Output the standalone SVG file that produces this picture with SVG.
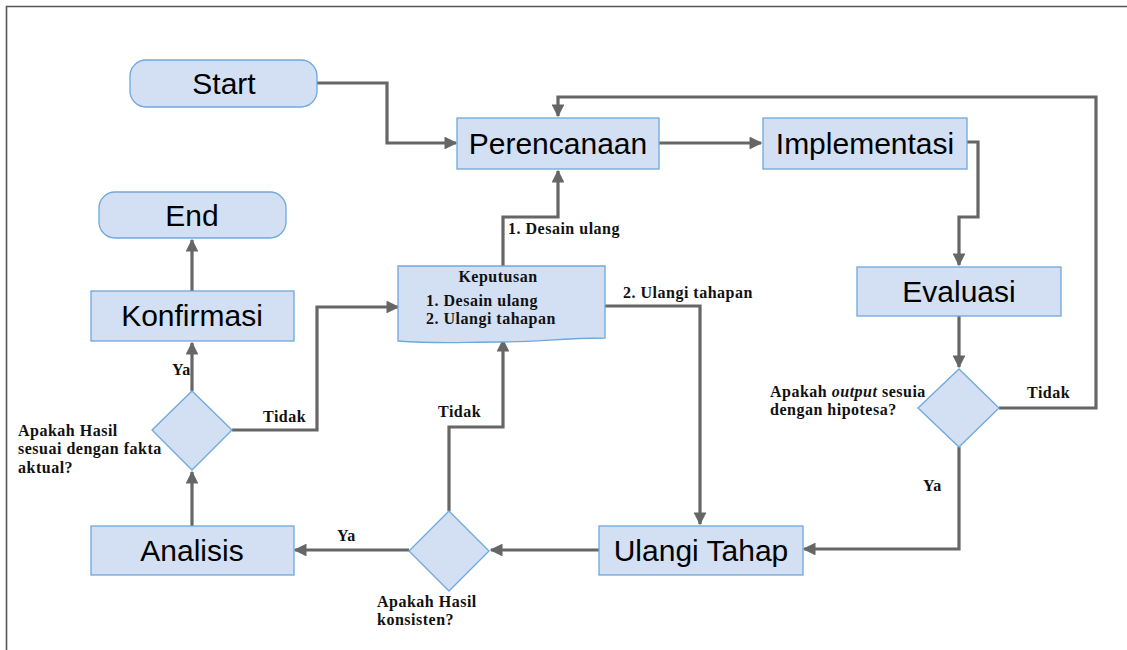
<svg xmlns="http://www.w3.org/2000/svg" width="1127" height="650" viewBox="0 0 1127 650">
<defs>
<marker id="ah" viewBox="0 0 10 10" refX="9" refY="5" markerWidth="4" markerHeight="4" orient="auto" markerUnits="strokeWidth">
<path d="M0,0 L10,5 L0,10 Z" fill="#666"/>
</marker>
<style>
.box{fill:#d3e0f4;stroke:#6fa8dc;stroke-width:1.3}
.big{font-family:"Liberation Sans",Arial,sans-serif;font-size:30px;fill:#000;text-anchor:middle}
.lbl{font-family:"Liberation Serif","Times New Roman",serif;font-size:16px;letter-spacing:0.5px;font-weight:bold;fill:#111}
.con{fill:none;stroke:#666;stroke-width:3.2;stroke-linejoin:miter}
.arr{marker-end:url(#ah)}
</style>
</defs>
<rect width="1127" height="650" fill="#fff"/>
<path d="M6.5,650 V6.5 H1127" fill="none" stroke="#555" stroke-width="1.6"/>

<g id="connectors">
<path class="con arr" d="M317,83 H387 V143 H456"/>
<path class="con arr" d="M659,143 H761"/>
<path class="con arr" d="M967,142 H978 V217 H959 V265"/>
<path class="con arr" d="M959,316 V367"/>
<path class="con arr" d="M999,408 H1096 V97 H558 V116"/>
<path class="con arr" d="M959,447 V549 H804"/>
<path class="con arr" d="M605,306 H700 V524"/>
<path class="con arr" d="M599,550 H491"/>
<path class="con arr" d="M449,511 V427 H503 V340"/>
<path class="con arr" d="M409,550 H295"/>
<path class="con arr" d="M192,526 V472"/>
<path class="con arr" d="M192,391 V343"/>
<path class="con arr" d="M232,430 H317 V307 H398"/>
<path class="con arr" d="M192,291 V240"/>
<path class="con arr" d="M503,266 V217 H558 V171"/>
</g>

<g id="start"><rect class="box" x="130" y="60" width="187" height="47" rx="16"/><text class="big" x="224" y="94">Start</text></g>
<g id="end"><rect class="box" x="99" y="192" width="187" height="46" rx="16"/><text class="big" x="192" y="226">End</text></g>
<g id="perencanaan"><rect class="box" x="457" y="118" width="202" height="51"/><text class="big" x="558" y="154">Perencanaan</text></g>
<g id="implementasi"><rect class="box" x="763" y="118" width="204" height="51"/><text class="big" x="865" y="154">Implementasi</text></g>
<g id="evaluasi"><rect class="box" x="857" y="267" width="204" height="49"/><text class="big" x="959" y="302">Evaluasi</text></g>
<g id="ulangi"><rect class="box" x="599" y="526" width="204" height="49"/><text class="big" x="701" y="561">Ulangi Tahap</text></g>
<g id="analisis"><rect class="box" x="91" y="526" width="203" height="49"/><text class="big" x="192" y="561">Analisis</text></g>
<g id="konfirmasi"><rect class="box" x="91" y="291" width="203" height="50"/><text class="big" x="192" y="326">Konfirmasi</text></g>

<g id="keputusan">
<path class="box" d="M398,266 H605 V338 C560,338 540,342 500,342 C460,342 440,344 398,341 Z"/>
<text class="lbl" x="498" y="282" text-anchor="middle" font-size="14.5">Keputusan</text>
<text class="lbl" x="426" y="306">1. Desain ulang</text>
<text class="lbl" x="426" y="324">2. Ulangi tahapan</text>
</g>

<g id="dec-evaluasi">
<path class="box" d="M959,369 L999,408 L959,447 L918,408 Z"/>
<text class="lbl" x="770" y="397">Apakah <tspan font-style="italic">output</tspan> sesuia</text>
<text class="lbl" x="770" y="415">dengan hipotesa?</text>
</g>
<g id="dec-konsisten">
<path class="box" d="M449,511 L489,551 L449,591 L409,551 Z"/>
<text class="lbl" x="377" y="607">Apakah Hasil</text>
<text class="lbl" x="377" y="625">konsisten?</text>
</g>
<g id="dec-fakta">
<path class="box" d="M192,391 L232,430 L192,470 L152,430 Z"/>
<text class="lbl" x="18" y="436">Apakah Hasil</text>
<text class="lbl" x="18" y="454">sesuai dengan fakta</text>
<text class="lbl" x="18" y="473">aktual?</text>
</g>

<g id="labels">
<text class="lbl" x="508" y="234">1. Desain ulang</text>
<text class="lbl" x="623" y="298">2. Ulangi tahapan</text>
<text class="lbl" x="1027" y="398">Tidak</text>
<text class="lbl" x="923" y="491">Ya</text>
<text class="lbl" x="438" y="417">Tidak</text>
<text class="lbl" x="337" y="541">Ya</text>
<text class="lbl" x="263" y="422">Tidak</text>
<text class="lbl" x="172" y="375">Ya</text>
</g>
</svg>
